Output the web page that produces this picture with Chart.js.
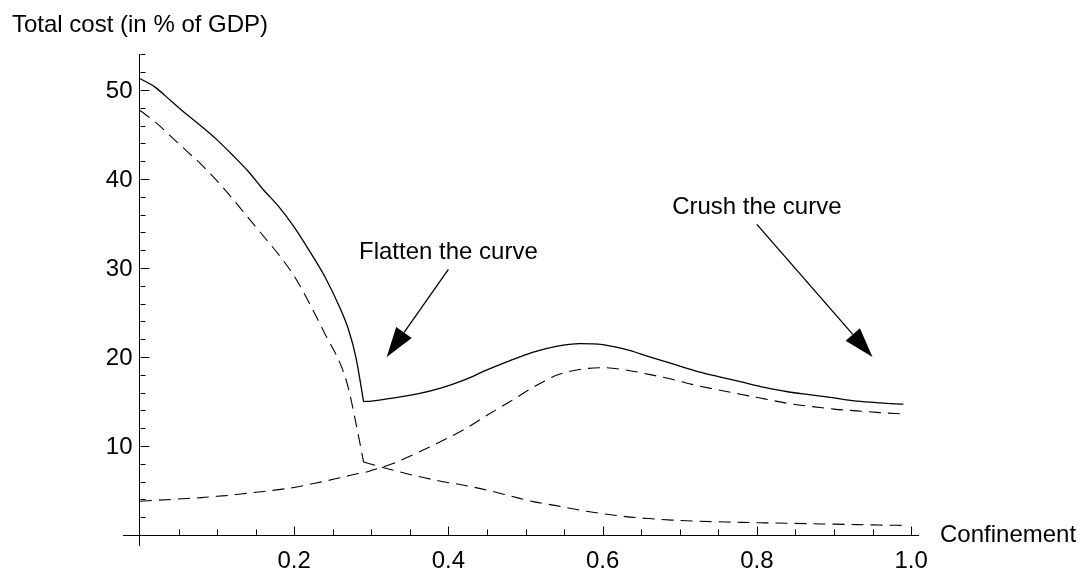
<!DOCTYPE html>
<html>
<head>
<meta charset="utf-8">
<script src="https://cdn.jsdelivr.net/npm/chart.js@4.4.0/dist/chart.umd.min.js"></script>
<style>
  html, body { margin: 0; padding: 0; background: #fff; }
  #wrap { width: 1084px; height: 575px; }
</style>
</head>
<body>
<div id="wrap"><canvas id="costChart"></canvas></div>
<script>
// Values
const confinement = [0, 0.02, 0.04, 0.06, 0.08, 0.10, 0.12, 0.14, 0.16, 0.18, 0.20, 0.22, 0.24, 0.26, 0.27, 0.28, 0.29,
  0.30, 0.33, 0.36, 0.39, 0.42, 0.45, 0.48, 0.51, 0.54, 0.57, 0.60, 0.63, 0.66, 0.69, 0.72, 0.75, 0.78, 0.81, 0.84, 0.87, 0.90, 0.93, 0.96, 0.99];

const totalCost = [51.3, 50.3, 48.8, 47.3, 45.9, 44.4, 42.7, 40.9, 38.8, 36.9, 34.6, 31.9, 29.0, 25.4, 23.2, 20.0, 15.0,
  15.05, 15.4, 15.85, 16.5, 17.4, 18.55, 19.6, 20.55, 21.2, 21.5, 21.4, 20.85, 20.05, 19.25, 18.45, 17.8, 17.2, 16.6, 16.1, 15.75, 15.4, 15.05, 14.85, 14.7];

const healthCost = [47.7, 46.4, 44.8, 43.2, 41.6, 39.8, 37.8, 35.7, 33.6, 31.5, 29.1, 26.0, 22.6, 19.2, 16.6, 12.6, 8.2,
  7.95, 7.25, 6.6, 6.05, 5.6, 5.05, 4.4, 3.75, 3.3, 2.8, 2.4, 2.07, 1.85, 1.68, 1.56, 1.49, 1.42, 1.37, 1.32, 1.27, 1.22, 1.17, 1.12, 1.08];

const economicCost = [3.8, 3.9, 4.0, 4.1, 4.2, 4.35, 4.5, 4.7, 4.9, 5.1, 5.35, 5.7, 6.05, 6.45, 6.65, 6.85, 7.0,
  7.25, 8.1, 9.25, 10.5, 11.85, 13.45, 15.0, 16.6, 17.95, 18.6, 18.8, 18.55, 18.05, 17.5, 16.85, 16.3, 15.8, 15.3, 14.8, 14.45, 14.15, 13.95, 13.75, 13.6];

const xTickLabels = [0.2, 0.4, 0.6, 0.8, 1.0];
const yTickLabels = [10, 20, 30, 40, 50];

const notes = [
  { text: "Flatten the curve", from: [0.40, 29.85], to: [0.32, 20.0] },
  { text: "Crush the curve", from: [0.80, 34.9], to: [0.95, 20.0] }
];

const kink = confinement.indexOf(0.29); // where the curves break

const FONT = '"Liberation Sans", Arial, sans-serif';

function pts(values, from = 0, to = confinement.length) {
  return confinement.slice(from, to).map((c, i) => ({ x: c, y: values[from + i] }));
}

// inward tick marks, tick labels and axis titles
const axisDecor = {
  id: "axisDecor",
  afterDraw(chart) {
    const { ctx, scales: { x, y } } = chart;
    const x0 = Math.round(x.getPixelForValue(0)) + 0.5;
    const y0 = Math.round(y.getPixelForValue(0)) + 0.5;
    ctx.save();
    ctx.strokeStyle = "#000";
    ctx.lineWidth = 1;
    ctx.beginPath();
    for (let i = 1; i <= 20; i++) {
      const px = Math.round(x.getPixelForValue(i * 0.05)) + 0.5;
      const len = i % 4 === 0 ? 9 : 6;
      ctx.moveTo(px, y0);
      ctx.lineTo(px, y0 - len);
    }
    for (let v = 2; v <= 54; v += 2) {
      const py = Math.round(y.getPixelForValue(v)) + 0.5;
      const len = v % 10 === 0 ? 9 : 5;
      ctx.moveTo(x0, py);
      ctx.lineTo(x0 + len, py);
    }
    ctx.stroke();

    ctx.fillStyle = "#000";
    ctx.font = "24px " + FONT;

    ctx.textAlign = "center";
    ctx.textBaseline = "alphabetic";
    xTickLabels.forEach(v => ctx.fillText(v.toFixed(1), x.getPixelForValue(v), y0 + 32));

    ctx.textAlign = "right";
    ctx.textBaseline = "middle";
    yTickLabels.forEach(v => ctx.fillText(String(v), x0 - 8, y.getPixelForValue(v) + 1));

    ctx.textAlign = "left";
    ctx.textBaseline = "alphabetic";
    ctx.fillText("Total cost (in % of GDP)", 12, 32);
    ctx.textBaseline = "middle";
    ctx.fillText("Confinement", chart.chartArea.right + 22, y0);
    ctx.restore();
  }
};

// text labels with filled arrows
const arrowNotes = {
  id: "arrowNotes",
  afterDraw(chart) {
    const { ctx, scales: { x, y } } = chart;
    ctx.save();
    ctx.fillStyle = "#000";
    ctx.strokeStyle = "#000";
    ctx.lineWidth = 1.3;
    ctx.font = "24px " + FONT;
    ctx.textAlign = "center";
    ctx.textBaseline = "alphabetic";
    notes.forEach(n => {
      const fx = x.getPixelForValue(n.from[0]), fy = y.getPixelForValue(n.from[1]);
      const tx = x.getPixelForValue(n.to[0]), ty = y.getPixelForValue(n.to[1]);
      ctx.fillText(n.text, fx, fy - 10);
      const ang = Math.atan2(ty - fy, tx - fx);
      const headLen = 30, half = 9.5;
      const bx = tx - headLen * Math.cos(ang), by = ty - headLen * Math.sin(ang);
      ctx.beginPath();
      ctx.moveTo(fx, fy);
      ctx.lineTo(bx, by);
      ctx.stroke();
      ctx.beginPath();
      ctx.moveTo(tx, ty);
      ctx.lineTo(bx + half * Math.sin(ang), by - half * Math.cos(ang));
      ctx.lineTo(bx - half * Math.sin(ang), by + half * Math.cos(ang));
      ctx.closePath();
      ctx.fill();
    });
    ctx.restore();
  }
};

const solid = { borderColor: "#000", borderWidth: 1.3 };
const dashed = { borderColor: "#000", borderWidth: 1.1, borderDash: [12, 7] };

new Chart(document.getElementById("costChart"), {
  type: "line",
  data: {
    datasets: [
      { label: "Total", data: pts(totalCost, 0, kink + 1), ...solid },
      { label: "Total", data: pts(totalCost, kink), ...solid },
      { label: "Health", data: pts(healthCost, 0, kink + 1), ...dashed },
      { label: "Health", data: pts(healthCost, kink), ...dashed },
      { label: "Economic", data: pts(economicCost), ...dashed }
    ]
  },
  options: {
    responsive: true,
    maintainAspectRatio: false,
    animation: false,
    devicePixelRatio: 1,
    layout: { padding: { left: 123, right: 166, top: 54, bottom: 30 } },
    elements: { point: { radius: 0 }, line: { cubicInterpolationMode: "monotone", fill: false } },
    plugins: { legend: { display: false }, tooltip: { enabled: false } },
    scales: {
      x: {
        type: "linear",
        min: -0.022,
        max: 1.009,
        position: { y: 0 },
        grid: { display: false },
        border: { color: "#000", width: 1 },
        ticks: { display: false }
      },
      y: {
        type: "linear",
        min: -1.12,
        max: 54.05,
        position: { x: 0 },
        grid: { display: false },
        border: { color: "#000", width: 1 },
        ticks: { display: false }
      }
    }
  },
  plugins: [axisDecor, arrowNotes]
});
</script>
</body>
</html>
